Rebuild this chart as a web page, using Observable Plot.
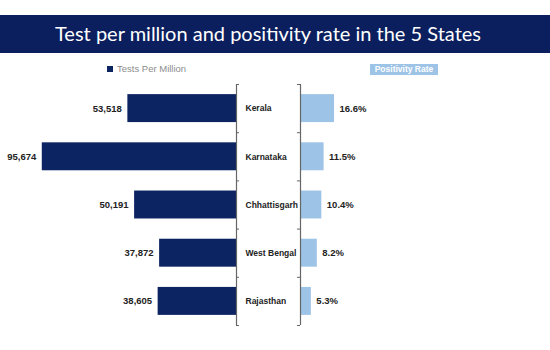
<!DOCTYPE html>
<html>
<head>
<meta charset="utf-8">
<script src="https://cdn.jsdelivr.net/npm/d3@7"></script>
<script src="https://cdn.jsdelivr.net/npm/@observablehq/plot@0.6"></script>
<style>
  html, body { margin: 0; padding: 0; background: #fff; }
  #wrap { position: relative; width: 550px; height: 350px; overflow: hidden; background: #fff; font-family: "Liberation Sans", Arial, sans-serif; }
  #title { position: absolute; left: 0; top: 15px; width: 550px; height: 38px; background: #0b1f5e; color: #fff;
           font-family: Lato, sans-serif; font-size: 20px; line-height: 37px; text-align: center; box-sizing: border-box; padding-right: 14px; }
  #legL { position: absolute; left: 107px; top: 63px; font-size: 9.5px; color: #8c8c8c; line-height: 12px; white-space: nowrap; }
  #legL span.sw { display: inline-block; width: 6px; height: 6px; background: #0c2461; margin-right: 4px; vertical-align: 0px; }
  #legR { position: absolute; left: 370px; top: 64px; width: 68px; height: 11px; background: #9dc3e6; color: #fff;
          font-size: 8.5px; font-weight: bold; line-height: 11px; text-align: center; white-space: nowrap; }
  #left { position: absolute; left: 0; top: 60px; }
  #right { position: absolute; left: 290px; top: 60px; }
</style>
</head>
<body>
<div id="wrap">
  <div id="title">Test per million and positivity rate in the 5 States</div>
  <div id="legL"><span class="sw"></span>Tests Per Million</div>
  <div id="legR">Positivity Rate</div>
  <div id="left"></div>
  <div id="right"></div>
</div>
<script>
const states = ["Kerala", "Karnataka", "Chhattisgarh", "West Bengal", "Rajasthan"];
const testsPerMillion = [53518, 95674, 50191, 37872, 38605];
const positivityRate = [16.6, 11.5, 10.4, 8.2, 5.3];
const bandEdges = [0, 1, 2, 3, 4, 5];

const rows = states.map((s, i) => ({ state: s, i, tests: testsPerMillion[i], rate: positivityRate[i] }));

const navy = "#0c2461";
const light = "#9dc3e6";
const axisColor = "#666";
const pad = 0.21;

const left = Plot.plot({
  width: 300, height: 275,
  marginTop: 24, marginBottom: 10, marginLeft: 33, marginRight: 64,
  style: { fontFamily: "'Liberation Sans', Arial, sans-serif", background: "transparent", overflow: "visible" },
  x: { domain: [0, 100000], reverse: true, axis: null },
  y: { domain: [0, 5], reverse: true, axis: null },
  marks: [
    Plot.rectX(rows, { x1: 0, x2: "tests", y1: d => d.i + pad, y2: d => d.i + 1 - pad, fill: navy }),
    Plot.ruleX([0], { stroke: axisColor, strokeWidth: 1.2 }),
    Plot.ruleY(bandEdges, { x1: 0, x2: -1500, stroke: axisColor }),
    Plot.text(rows, { x: "tests", y: d => d.i + 0.5, text: d => d3.format(",")(d.tests), textAnchor: "end", dx: -6,
                      fontWeight: "bold", fontSize: 9.5, fill: "#222" }),
    Plot.text(rows, { x: 0, y: d => d.i + 0.5, text: "state", textAnchor: "start", dx: 9,
                      fontWeight: "bold", fontSize: 8.5, fill: "#222" })
  ]
});
document.getElementById("left").appendChild(left);

const right = Plot.plot({
  width: 260, height: 275,
  marginTop: 24, marginBottom: 10, marginLeft: 10, marginRight: 45,
  style: { fontFamily: "'Liberation Sans', Arial, sans-serif", background: "transparent", overflow: "visible" },
  x: { domain: [0, 100], axis: null },
  y: { domain: [0, 5], reverse: true, axis: null },
  marks: [
    Plot.rectX(rows, { x1: 0, x2: "rate", y1: d => d.i + pad, y2: d => d.i + 1 - pad, fill: light }),
    Plot.ruleX([0], { stroke: axisColor, strokeWidth: 1.2 }),
    Plot.ruleY(bandEdges, { x1: 0, x2: -1.5, stroke: axisColor }),
    Plot.text(rows, { x: "rate", y: d => d.i + 0.5, text: d => d.rate.toFixed(1) + "%", textAnchor: "start", dx: 5,
                      fontWeight: "bold", fontSize: 9.5, fill: "#222" })
  ]
});
document.getElementById("right").appendChild(right);
</script>
</body>
</html>
